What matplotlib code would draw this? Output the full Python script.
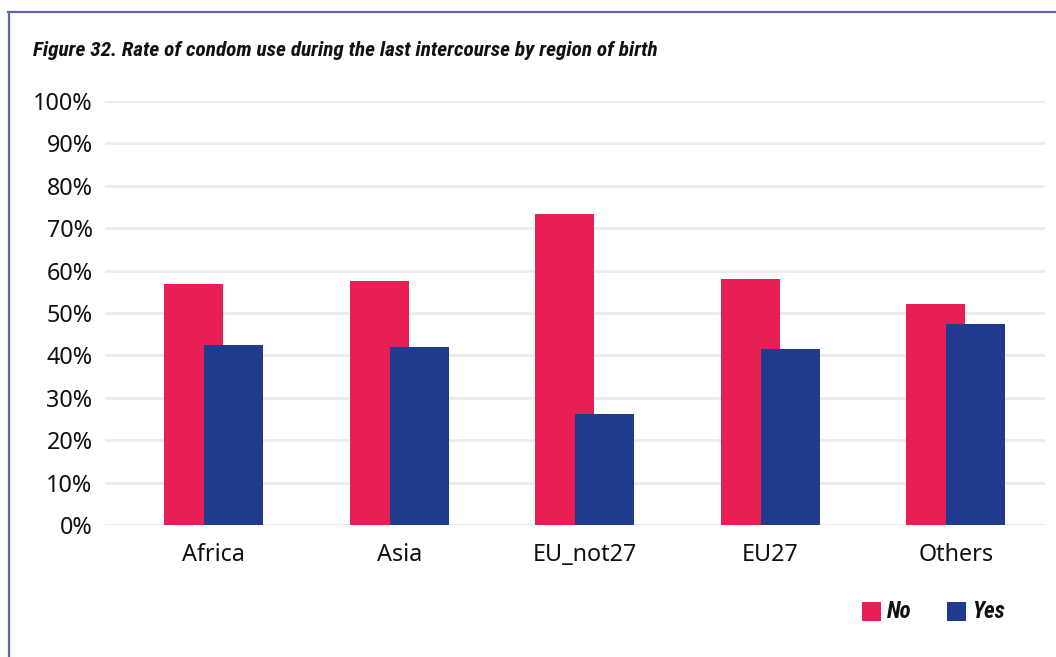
import matplotlib
matplotlib.use("Agg")
import matplotlib.pyplot as plt
from matplotlib import font_manager
from matplotlib.lines import Line2D
from matplotlib.patches import Rectangle
import numpy as np

# Data
regions = ["Africa", "Asia", "EU_not27", "EU27", "Others"]
no_pct = [56.8, 57.5, 73.3, 58.0, 52.1]
yes_pct = [42.4, 42.0, 26.2, 41.5, 47.3]
series_names = ["No", "Yes"]
yticks = [0, 10, 20, 30, 40, 50, 60, 70, 80, 90, 100]
title = "Figure 32. Rate of condom use during the last intercourse by region of birth"

RED = "#E71F55"
BLUE = "#203A8E"
GRID = "#EBEBEB"
FRAME = "#5F66A8"


def pick_font(candidates):
    for name in candidates:
        try:
            font_manager.findfont(font_manager.FontProperties(family=name),
                                  fallback_to_default=False)
            return name
        except Exception:
            continue
    return "DejaVu Sans"


body_font = pick_font(["Noto Sans", "Open Sans", "DejaVu Sans"])
narrow_font = pick_font(["Liberation Sans Narrow", "Roboto Condensed", "Liberation Sans"])

W, H = 1056, 657
fig = plt.figure(figsize=(W / 100, H / 100), dpi=100)
fig.patch.set_facecolor("white")

ax_left, ax_right = 105 / W, 1045 / W
ax_bottom, ax_top = (H - 525) / H, (H - 101) / H
ax = fig.add_axes([ax_left, ax_bottom, ax_right - ax_left, ax_top - ax_bottom])

x = np.arange(len(regions))
width = 0.318
offset = 0.108
ax.bar(x - offset, no_pct, width, color=RED, zorder=2, label=series_names[0])
ax.bar(x + offset, yes_pct, width, color=BLUE, zorder=3, label=series_names[1])

ax.set_ylim(0, 100)
ax.set_xlim(-0.585, 4.48)
ax.set_yticks(yticks)
ax.set_yticklabels([f"{v}%" for v in yticks], fontfamily=body_font, fontsize=16.8)
ax.set_xticks(x)
ax.set_xticklabels(regions, fontfamily=body_font, fontsize=16.8)
ax.tick_params(axis="both", length=0, colors="#111111")
ax.tick_params(axis="y", pad=9)
ax.tick_params(axis="x", pad=13)

for v in yticks:
    ax.axhline(v, color=GRID, lw=2.0, zorder=1)
for s in ax.spines.values():
    s.set_visible(False)

# Outer frame (top and left edges)
fig.add_artist(Line2D([8 / W, 1.0], [(H - 11.5) / H] * 2, color=FRAME, lw=1.6))
fig.add_artist(Line2D([8.5 / W] * 2, [0, (H - 11.5) / H], color=FRAME, lw=1.6))

fig.text(33 / W, (H - 51) / H, title, fontfamily=narrow_font, fontweight="bold",
         fontstyle="italic", fontsize=15.3, va="center", ha="left", color="#111111")

# Legend
for sx, color, name in [(862, RED, series_names[0]), (947, BLUE, series_names[1])]:
    fig.add_artist(Rectangle((sx / W, (H - 621) / H), 19 / W, 19 / H,
                             facecolor=color, edgecolor="none", transform=fig.transFigure))
    fig.text((sx + 25) / W, (H - 611) / H, name, fontfamily=narrow_font,
             fontweight="bold", fontstyle="italic", fontsize=16.5,
             va="center", ha="left", color="#111111")

fig.savefig("out.png", dpi=100, facecolor="white")
